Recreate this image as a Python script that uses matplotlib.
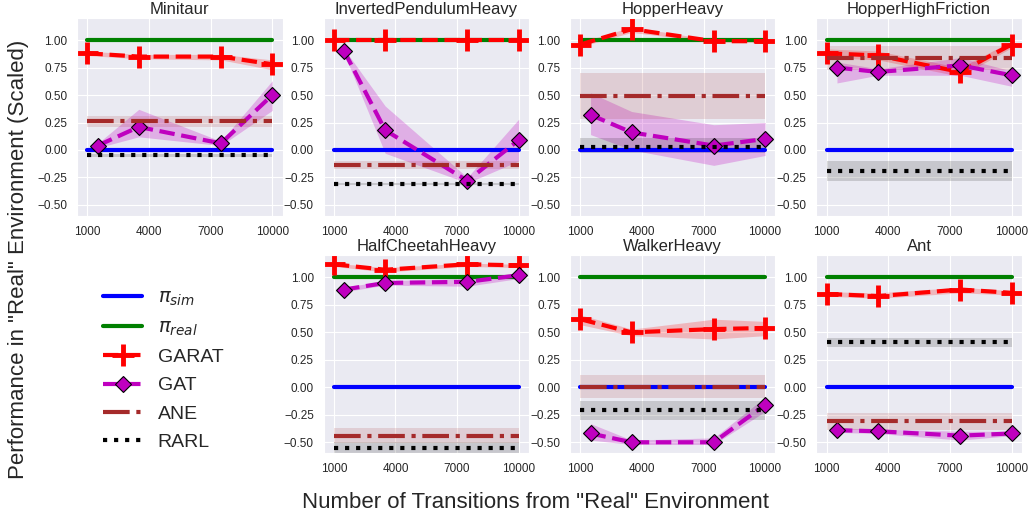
import numpy as np
import matplotlib
matplotlib.use("Agg")
import matplotlib.pyplot as plt
import seaborn as sns

sns.set_style("darkgrid")
plt.rcParams['font.family'] = ['Liberation Sans', 'DejaVu Sans']

envs = ['Minitaur', 'InvertedPendulumHeavy', 'HopperHeavy', 'HopperHighFriction',
        'HalfCheetahHeavy', 'WalkerHeavy', 'Ant']
x_garat = [1000, 3500, 7500, 10000]
x_gat = [1500, 3500, 7500, 10000]
x_flat = [1000, 10000]
xticks = [1000, 4000, 7000, 10000]

# mean, low, high per env
garat_mean = [[0.88, 0.85, 0.85, 0.78], [1.0, 1.0, 1.0, 1.0], [0.96, 1.10, 0.99, 0.99],
              [0.88, 0.86, 0.71, 0.96], [1.12, 1.07, 1.12, 1.11], [0.62, 0.50, 0.53, 0.54],
              [0.85, 0.83, 0.89, 0.86]]
garat_lo = [[0.86, 0.83, 0.82, 0.73], [1.0, 1.0, 1.0, 1.0], [0.94, 1.07, 0.98, 0.98],
            [0.84, 0.82, 0.67, 0.93], [1.10, 1.05, 1.10, 1.09], [0.57, 0.47, 0.44, 0.47],
            [0.83, 0.81, 0.86, 0.84]]
garat_hi = [[0.90, 0.87, 0.87, 0.82], [1.0, 1.0, 1.0, 1.0], [0.98, 1.12, 1.00, 1.00],
            [0.92, 0.90, 0.75, 0.99], [1.13, 1.09, 1.13, 1.12], [0.66, 0.53, 0.62, 0.60],
            [0.87, 0.86, 0.91, 0.88]]
gat_mean = [[0.04, 0.21, 0.06, 0.50], [0.90, 0.18, -0.28, 0.09], [0.32, 0.16, 0.04, 0.10],
            [0.75, 0.71, 0.77, 0.68], [0.89, 0.95, 0.96, 1.02], [-0.42, -0.50, -0.50, -0.16],
            [-0.39, -0.40, -0.44, -0.42]]
gat_lo = [[0.02, 0.12, 0.04, 0.36], [0.88, -0.03, -0.30, -0.10], [0.14, 0.00, -0.14, -0.05],
          [0.61, 0.68, 0.68, 0.58], [0.87, 0.93, 0.92, 0.99], [-0.48, -0.52, -0.52, -0.22],
          [-0.41, -0.42, -0.48, -0.44]]
gat_hi = [[0.06, 0.37, 0.08, 0.63], [0.92, 0.40, -0.25, 0.28], [0.52, 0.35, 0.23, 0.25],
          [0.80, 0.74, 0.84, 0.72], [0.91, 0.97, 0.99, 1.04], [-0.33, -0.48, -0.46, -0.09],
          [-0.37, -0.38, -0.40, -0.40]]
ane_mean = [0.26, -0.14, 0.49, 0.84, -0.44, 0.00, -0.31]
ane_lo = [0.21, -0.17, 0.28, 0.73, -0.51, -0.10, -0.39]
ane_hi = [0.31, -0.10, 0.70, 0.95, -0.37, 0.11, -0.23]
rarl_mean = [-0.05, -0.31, 0.03, -0.19, -0.55, -0.21, 0.41]
rarl_lo = [-0.06, -0.32, -0.03, -0.28, -0.60, -0.30, 0.37]
rarl_hi = [-0.04, -0.30, 0.11, -0.10, -0.50, -0.12, 0.45]

fig, axes = plt.subplots(2, 4, figsize=(10.29, 5.18), dpi=100)
fig.subplots_adjust(left=0.075, right=0.993, top=0.965, bottom=0.125, wspace=0.2, hspace=0.2)
slots = [axes[0, 0], axes[0, 1], axes[0, 2], axes[0, 3], axes[1, 1], axes[1, 2], axes[1, 3]]

for i, ax in enumerate(slots):
    h_sim, = ax.plot(x_flat, [0, 0], color='blue', lw=3)
    h_real, = ax.plot(x_flat, [1, 1], color='green', lw=3)
    h_garat, = ax.plot(x_garat, garat_mean[i], color='red', ls='--', lw=3,
                       marker='+', ms=16, mew=3.5)
    ax.fill_between(x_garat, garat_lo[i], garat_hi[i], color='red', alpha=0.22, lw=0)
    h_gat, = ax.plot(x_gat, gat_mean[i], color='m', ls='--', lw=3,
                     marker='D', ms=8, mec='black', mew=0.8)
    ax.fill_between(x_gat, gat_lo[i], gat_hi[i], color='m', alpha=0.25, lw=0)
    h_ane, = ax.plot(x_flat, [ane_mean[i]] * 2, color='brown', ls='-.', lw=3)
    ax.fill_between(x_flat, [ane_lo[i]] * 2, [ane_hi[i]] * 2, color='brown', alpha=0.15, lw=0)
    h_rarl, = ax.plot(x_flat, [rarl_mean[i]] * 2, color='black', ls=':', lw=3)
    ax.fill_between(x_flat, [rarl_lo[i]] * 2, [rarl_hi[i]] * 2, color='black', alpha=0.15, lw=0)
    ax.set_title(envs[i], fontsize=12, pad=3)
    ax.set_ylim(-0.6, 1.2)
    ax.set_xlim(500, 10500)
    ax.set_xticks(xticks)
    ax.set_yticks([-0.5, -0.25, 0, 0.25, 0.5, 0.75, 1.0])
    ax.tick_params(labelsize=8.5)

leg_ax = axes[1, 0]
leg_ax.axis('off')
leg_ax.legend([h_sim, h_real, h_garat, h_gat, h_ane, h_rarl],
              [r'$\pi_{sim}$', r'$\pi_{real}$', 'GARAT', 'GAT', 'ANE', 'RARL'],
              loc='center', bbox_to_anchor=(0.42, 0.42), fontsize=14, frameon=False,
              numpoints=1, handlelength=2.0, labelspacing=0.55)

fig.text(0.018, 0.5, 'Performance in "Real" Environment (Scaled)', rotation=90,
         va='center', ha='center', fontsize=16)
fig.text(0.52, 0.03, 'Number of Transitions from "Real" Environment',
         va='center', ha='center', fontsize=16)

fig.savefig('out.png', dpi=100)
